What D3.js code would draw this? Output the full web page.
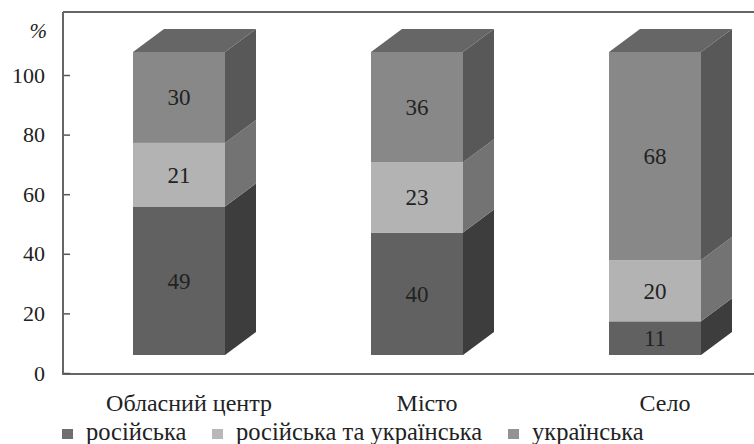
<!DOCTYPE html>
<html>
<head>
<meta charset="utf-8">
<script src="https://cdn.jsdelivr.net/npm/d3@7"></script>
<style>
  body { margin: 0; background: #fff; }
  svg text { font-family: "Liberation Serif", "Times New Roman", Tinos, "DejaVu Serif", serif; fill: #222; }
</style>
</head>
<body>
<div id="chart"></div>
<script>
// categories and series (percentages)
var categories = ["Обласний центр", "Місто", "Село"];
var seriesNames = ["російська", "російська та українська", "українська"];
var russian = [49, 40, 11];
var mixed = [21, 23, 20];
var ukrainian = [30, 36, 68];
var yTicks = [0, 20, 40, 60, 80, 100];

var frontColors = ["#616161", "#b3b3b3", "#888888"];
var sideColors = ["#3d3d3d", "#737373", "#585858"];
var legendColors = ["#6f6f6f", "#b8b8b8", "#939393"];
var topColor = "#666666";
var serif = "'Liberation Serif', 'Times New Roman', Tinos, 'DejaVu Serif', serif";

var width = 754, height = 444;
var dx = 31, dy = 23, barW = 92;

var svg = d3.select("#chart").append("svg")
  .attr("width", width)
  .attr("height", height)
  .attr("font-family", serif);

var x = d3.scaleBand().domain(categories).range([60, 774]);
var yAxisScale = d3.scaleLinear().domain([0, 100]).range([373, 75]);
var yBar = d3.scaleLinear().domain([0, 100]).range([355, 52]);

// frame lines
svg.append("line").attr("x1", 63).attr("y1", 12).attr("x2", width).attr("y2", 12)
  .attr("stroke", "#666").attr("stroke-width", 2);
svg.append("line").attr("x1", 63).attr("y1", 374).attr("x2", width).attr("y2", 374)
  .attr("stroke", "#666").attr("stroke-width", 2);

// y axis
var yAxis = svg.append("g")
  .attr("transform", "translate(63,0)")
  .call(d3.axisLeft(yAxisScale).tickValues(yTicks).tickSizeInner(-7).tickSizeOuter(0).tickPadding(18));
yAxis.attr("font-family", serif).attr("font-size", 22);
yAxis.select(".domain").remove();
yAxis.selectAll(".tick line").attr("stroke", "#555").attr("stroke-width", 1.5);
yAxis.selectAll(".tick text").attr("fill", "#222");
svg.append("line").attr("x1", 63).attr("y1", 12).attr("x2", 63).attr("y2", 375)
  .attr("stroke", "#666").attr("stroke-width", 2);

svg.append("text")
  .attr("x", 47).attr("y", 38)
  .attr("text-anchor", "end")
  .style("font-size", "21px")
  .style("font-style", "italic")
  .text("%");

// build stacked data, normalised to 100%
var rows = categories.map(function(c, i) {
  var vals = [russian[i], mixed[i], ukrainian[i]];
  var total = d3.sum(vals);
  var acc = 0;
  var segs = vals.map(function(v, k) {
    var s = { k: k, v: v, y0: acc / total * 100, y1: (acc + v) / total * 100 };
    acc += v;
    return s;
  });
  return { cat: c, segs: segs };
});

var bars = svg.selectAll("g.bar")
  .data(rows)
  .enter()
  .append("g")
  .attr("class", "bar");

bars.each(function(d) {
  var g = d3.select(this);
  var left = x(d.cat) + x.bandwidth() / 2 - barW / 2;
  var right = left + barW;

  d.segs.forEach(function(s) {
    var yt = yBar(s.y1), yb = yBar(s.y0);
    // front face
    g.append("rect")
      .attr("x", left).attr("y", yt)
      .attr("width", barW).attr("height", yb - yt)
      .attr("fill", frontColors[s.k]);
    // side face
    g.append("path")
      .attr("d", "M" + right + "," + yt + "L" + right + "," + yb +
        "L" + (right + dx) + "," + (yb - dy) + "L" + (right + dx) + "," + (yt - dy) + "Z")
      .attr("fill", sideColors[s.k]);
    // value label
    g.append("text")
      .attr("x", left + barW / 2)
      .attr("y", (yt + yb) / 2 + 8)
      .attr("text-anchor", "middle")
      .style("font-size", "23px")
      .text(s.v);
  });

  // top face
  var yTop = yBar(100);
  g.append("path")
    .attr("d", "M" + left + "," + yTop + "L" + (left + dx) + "," + (yTop - dy) +
      "L" + (right + dx) + "," + (yTop - dy) + "L" + right + "," + yTop + "Z")
    .attr("fill", topColor);
});

// category labels
svg.selectAll("text.cat")
  .data(categories)
  .enter()
  .append("text")
  .attr("class", "cat")
  .attr("x", function(d) { return x(d) + x.bandwidth() / 2 + 10; })
  .attr("y", 411)
  .attr("text-anchor", "middle")
  .style("font-size", "24px")
  .text(function(d) { return d; });

// legend
var legendX = [62, 212, 508];
var legend = svg.selectAll("g.legend")
  .data(seriesNames)
  .enter()
  .append("g")
  .attr("class", "legend")
  .attr("transform", function(d, i) { return "translate(" + legendX[i] + ",429)"; });
legend.append("rect")
  .attr("width", 11).attr("height", 10)
  .attr("fill", function(d, i) { return legendColors[i]; });
legend.append("text")
  .attr("x", 24).attr("y", 11)
  .style("font-size", "24.5px")
  .text(function(d) { return d; });
</script>
</body>
</html>
